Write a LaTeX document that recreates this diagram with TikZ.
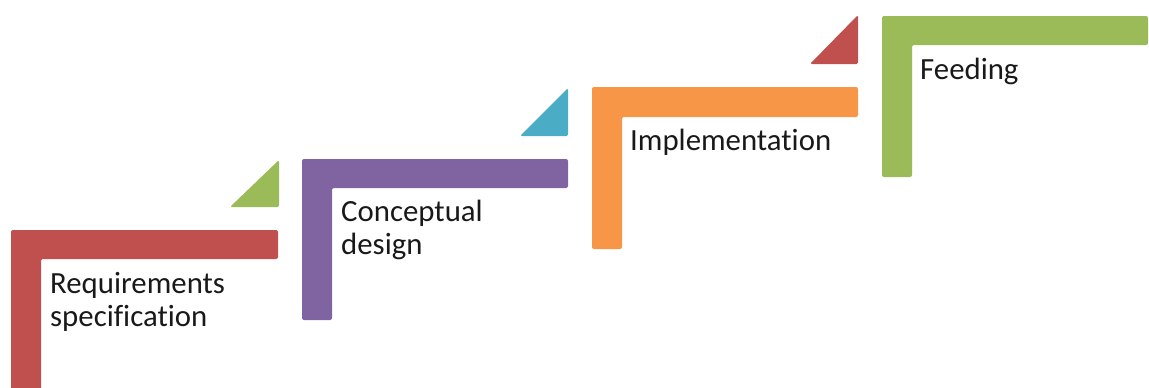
\documentclass[tikz,border=0pt]{standalone}
\usepackage{fontspec}
\setmainfont[Ligatures={NoCommon}]{Carlito}
\definecolor{cred}{HTML}{C0504D}
\definecolor{cpurple}{HTML}{8064A2}
\definecolor{corange}{HTML}{F79646}
\definecolor{cgreen}{HTML}{9BBB59}
\definecolor{cteal}{HTML}{4BACC6}
\begin{document}
\begin{tikzpicture}[x=1pt,y=-1pt,
  stepshape/.style={fill=#1,draw=none,rounded corners=2pt},
  tri/.style={fill=#1,draw=none,rounded corners=1.5pt},
  lbl/.style={anchor=base west,inner sep=0pt,align=left,text=black!90,
    font=\fontsize{30.8}{33}\selectfont}]
\useasboundingbox (0,0) rectangle (1149,388);
% step 1
\fill[stepshape=cred] (11,230) -- (278,230) -- (278,259) -- (41,259) -- (41,392) -- (11,392) -- cycle;
\fill[tri=cgreen] (230,207) -- (279,207) -- (279,160) -- cycle;
\node[lbl] (req) at (50,326) {Requirements\\specification};
% step 2
\fill[stepshape=cpurple] (302,159) -- (568,159) -- (568,188) -- (332,188) -- (332,320) -- (302,320) -- cycle;
\fill[tri=cteal] (520,136) -- (568,136) -- (568,88) -- cycle;
\node[lbl] (con) at (341,254) {Conceptual\\design};
% step 3
\fill[stepshape=corange] (592,87) -- (858,87) -- (858,117) -- (622,117) -- (622,249) -- (592,249) -- cycle;
\fill[tri=cred] (810,64) -- (858,64) -- (858,15) -- cycle;
\node[lbl] (imp) at (630,150) {Implementation};
% step 4
\fill[stepshape=cgreen] (882,16) -- (1148,16) -- (1148,45) -- (912,45) -- (912,177) -- (882,177) -- cycle;
\node[lbl] (fee) at (920,79) {Feeding};
\end{tikzpicture}
\end{document}
